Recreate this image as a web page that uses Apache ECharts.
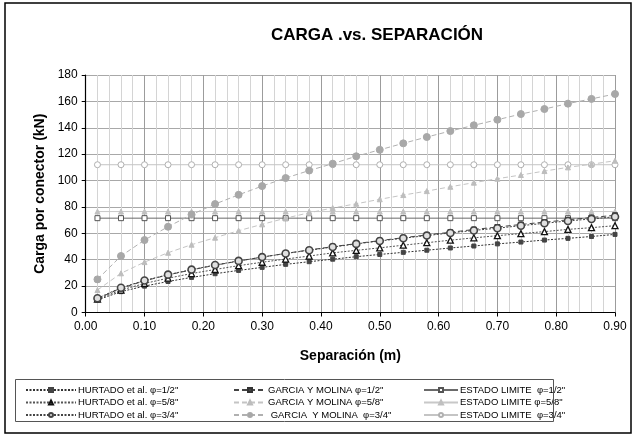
<!DOCTYPE html>
<html>
<head>
<meta charset="utf-8">
<script src="https://cdn.jsdelivr.net/npm/echarts@6/dist/echarts.min.js"></script>
<style>
html,body{margin:0;padding:0;background:#fff;}
#chart{width:636px;height:437px;}
</style>
</head>
<body>
<div id="chart"></div>
<script>
// Separación (m)
var separacion = [0.02,0.06,0.10,0.14,0.18,0.22,0.26,0.30,0.34,0.38,0.42,0.46,0.50,0.54,0.58,0.62,0.66,0.70,0.74,0.78,0.82,0.86,0.90];
// Carga por conector (kN)
var hurtado12 = [9.5,15.8,20.0,23.5,26.6,29.4,31.9,34.2,36.5,38.5,40.4,42.3,44.0,45.6,47.2,48.9,50.4,52.0,53.4,54.9,56.2,57.6,59.2];
var hurtado58 = [10.2,17.0,22.0,26.0,29.5,32.6,35.5,38.1,40.5,42.8,45.2,47.1,49.0,51.0,52.9,54.8,56.6,58.2,59.8,61.3,63.0,64.3,65.8];
var hurtado34 = [10.8,18.8,24.3,28.7,32.5,36.0,39.1,42.0,44.7,47.2,49.6,52.0,54.2,56.3,58.3,60.3,62.2,63.9,65.8,67.6,69.4,70.9,72.6];
var garcia12 = [10.5,18.4,24.0,28.5,32.3,35.8,39.0,42.0,44.8,47.4,49.9,52.2,54.5,56.7,58.8,60.8,62.9,64.8,66.7,68.5,70.2,72.0,73.7];
var garcia58 = [17.0,29.7,38.2,45.3,51.4,56.7,62.0,66.8,71.5,75.6,79.2,82.4,85.8,89.0,92.0,95.3,98.4,101.4,104.2,107.2,110.0,112.4,115.0];
var garcia34 = [25.1,42.8,54.9,65.0,74.2,82.2,89.2,95.8,101.9,107.6,112.8,118.4,123.3,128.2,133.0,137.5,141.9,146.1,150.4,154.2,158.3,161.9,165.6];
var estado12 = [71.5,71.5,71.5,71.5,71.5,71.5,71.5,71.5,71.5,71.5,71.5,71.5,71.5,71.5,71.5,71.5,71.5,71.5,71.5,71.5,71.5,71.5,71.5];
var estado58 = [76.5,76.5,76.5,76.5,76.5,76.5,76.5,76.5,76.5,76.5,76.5,76.5,76.5,76.5,76.5,76.5,76.5,76.5,76.5,76.5,76.5,76.5,76.5];
var estado34 = [112,112,112,112,112,112,112,112,112,112,112,112,112,112,112,112,112,112,112,112,112,112,112];
var yTicks = [0,20,40,60,80,100,120,140,160,180];
var names = {
  h12: 'HURTADO et al. φ=1/2"', h58: 'HURTADO et al. φ=5/8"', h34: 'HURTADO et al. φ=3/4"',
  g12: 'GARCIA Y MOLINA φ=1/2"', g58: 'GARCIA Y MOLINA φ=5/8"', g34: ' GARCIA  Y MOLINA  φ=3/4"',
  e12: 'ESTADO LIMITE  φ=1/2"', e58: 'ESTADO LIMITE φ=5/8"', e34: 'ESTADO LIMITE  φ=3/4"'
};

function pairs(vals){ return separacion.map(function(x,i){ return [x, vals[i]]; }); }

var FONT = '"Liberation Sans", Arial, sans-serif';

function mk(name, vals, o){
  return {
    name: name, type: 'line', data: pairs(vals),
    symbol: o.symbol, symbolSize: o.size,
    lineStyle: {color: o.line, width: o.lw || 1, type: o.type},
    itemStyle: {color: o.fill, borderColor: o.border, borderWidth: o.bw || 1},
    z: o.z || 2, animation: false, emphasis: {disabled: true}
  };
}

var series = [
  mk(names.e34, estado34, {symbol:'circle', size:6, line:'#c4c4c4', fill:'#ffffff', border:'#b0b0b0', type:'solid', z:2}),
  mk(names.e58, estado58, {symbol:'triangle', size:5, line:'#c8c8c8', fill:'#c0c0c0', border:'#c0c0c0', type:'solid', z:2}),
  mk(names.e12, estado12, {symbol:'rect', size:5, line:'#6a6a6a', fill:'#ffffff', border:'#555555', type:'solid', z:3}),
  mk(names.g34, garcia34, {symbol:'circle', size:7, line:'#b0b0b0', fill:'#a8a8a8', border:'#a8a8a8', type:[5,3], z:3}),
  mk(names.g58, garcia58, {symbol:'triangle', size:5, line:'#c4c4c4', fill:'#bdbdbd', border:'#bdbdbd', type:[5,3], z:3}),
  mk(names.h12, hurtado12, {symbol:'rect', size:4, line:'#333333', fill:'#444444', border:'#444444', type:[2,1.5], z:4}),
  mk(names.h58, hurtado58, {symbol:'triangle', size:6, line:'#555555', fill:'#ffffff', border:'#111111', type:[2,1.5], bw:1.3, z:4}),
  mk(names.g12, garcia12, {symbol:'rect', size:5, line:'#444444', fill:'#444444', border:'#333333', type:[5,3], z:5}),
  mk(names.h34, hurtado34, {symbol:'circle', size:7, line:'#444444', fill:'#e0e0e0', border:'#444444', type:[2,1.5], bw:1.6, z:6})
];

function legendCol(left, iw, data){
  return {
    orient: 'vertical', left: left, top: 380, itemWidth: iw, itemHeight: 5, itemGap: 2.5,
    data: data, selectedMode: false,
    textStyle: {fontFamily: FONT, fontSize: 9.5, color: '#000', lineHeight: 10, padding: [0,0,0,-3]}
  };
}

var option = {
  backgroundColor: '#ffffff',
  animation: false,
  textStyle: {fontFamily: FONT},
  title: {
    text: 'CARGA .vs. SEPARACIÓN', left: 372, top: 22, textAlign: 'center',
    textStyle: {fontFamily: FONT, fontSize: 17, fontWeight: 'bold', color: '#000'}
  },
  legend: [
    legendCol(20, 50, [names.h12, names.h58, names.h34]),
    legendCol(228, 32, [names.g12, names.g58, names.g34]),
    legendCol(418, 34, [names.e12, names.e58, names.e34])
  ],
  grid: {left: 85.7, right: 21, top: 75, bottom: 124.5, containLabel: false},
  xAxis: {
    type: 'value', min: 0, max: 0.9, interval: 0.1,
    name: 'Separación (m)', nameLocation: 'middle', nameGap: 37,
    nameTextStyle: {fontFamily: FONT, fontSize: 14, fontWeight: 'bold', color: '#000'},
    axisLine: {show: true, onZero: false, lineStyle: {color: '#000', width: 1.2}},
    axisTick: {show: true, length: 4, lineStyle: {color: '#000'}},
    axisLabel: {formatter: function(v){ return v.toFixed(2); }, fontFamily: FONT, fontSize: 12, color: '#000', margin: 8},
    splitLine: {show: true, lineStyle: {color: '#9c9c9c', width: 1}},
    minorTick: {show: false, splitNumber: 5},
    minorSplitLine: {show: true, lineStyle: {color: '#d4d4d4', width: 1}}
  },
  yAxis: {
    type: 'value', min: yTicks[0], max: yTicks[yTicks.length-1], interval: yTicks[1]-yTicks[0],
    name: 'Carga por conector (kN)', nameLocation: 'middle', nameGap: 37,
    nameTextStyle: {fontFamily: FONT, fontSize: 14, fontWeight: 'bold', color: '#000'},
    axisLine: {show: true, lineStyle: {color: '#000', width: 1.2}},
    axisTick: {show: true, length: 4, lineStyle: {color: '#000'}},
    axisLabel: {fontFamily: FONT, fontSize: 12, color: '#000', margin: 8},
    splitLine: {show: true, lineStyle: {color: '#a8a8a8', width: 1}}
  },
  graphic: [
    {type: 'rect', shape: {x: 5, y: 3, width: 626, height: 430}, style: {fill: 'none', stroke: '#000', lineWidth: 1.5}, silent: true, z: 100},
    {type: 'rect', shape: {x: 15.5, y: 379.5, width: 538, height: 42}, style: {fill: 'none', stroke: '#555', lineWidth: 1}, silent: true, z: 100}
  ],
  series: series
};

var chart = echarts.init(document.getElementById('chart'), null, {renderer: 'canvas'});
chart.setOption(option);
</script>
</body>
</html>
